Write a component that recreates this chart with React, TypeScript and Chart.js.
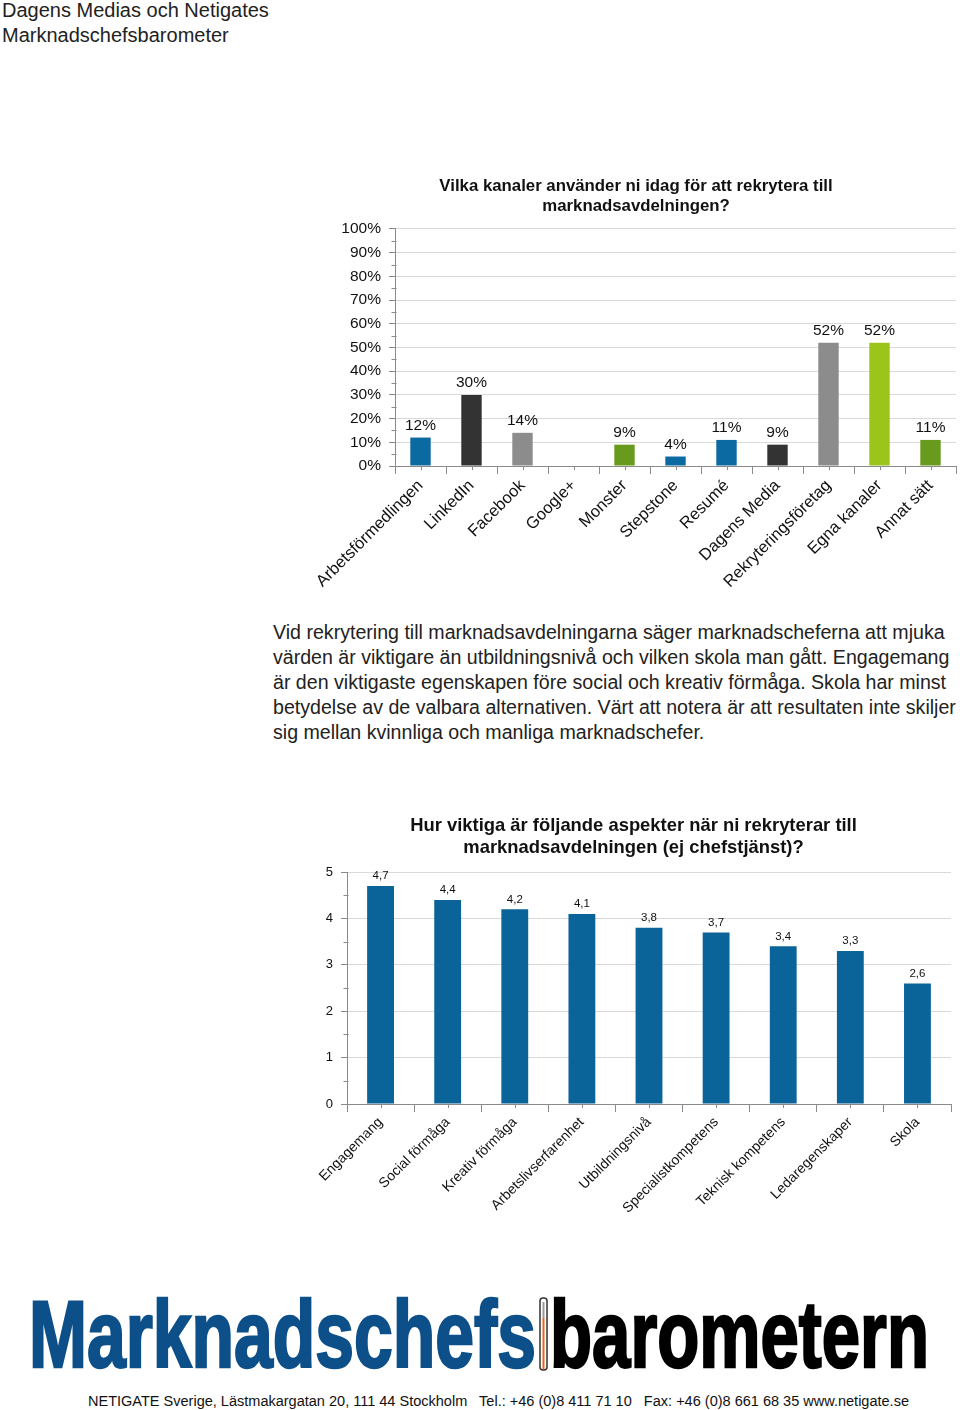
import React, { useEffect, useRef } from "react";
import { Chart, registerables } from "chart.js";

Chart.register(...registerables);

const FONT = "'Liberation Sans', Arial, Helvetica, sans-serif";

// Chart 1 data
const channelTitle = ["Vilka kanaler använder ni idag för att rekrytera till", "marknadsavdelningen?"];
const channelLabels = [
  "Arbetsförmedlingen",
  "LinkedIn",
  "Facebook",
  "Google+",
  "Monster",
  "Stepstone",
  "Resumé",
  "Dagens Media",
  "Rekryteringsföretag",
  "Egna kanaler",
  "Annat sätt",
];
const channelValues: (number | null)[] = [12, 30, 14, null, 9, 4, 11, 9, 52, 52, 11];
const channelColors = [
  "#0b6aa2",
  "#333333",
  "#8c8c8c",
  "#8c8c8c",
  "#689a1d",
  "#0b6aa2",
  "#0b6aa2",
  "#333333",
  "#8c8c8c",
  "#9dc41b",
  "#689a1d",
];

// Chart 2 data
const aspectTitle = ["Hur viktiga är följande aspekter när ni rekryterar till", "marknadsavdelningen (ej chefstjänst)?"];
const aspectLabels = [
  "Engagemang",
  "Social förmåga",
  "Kreativ förmåga",
  "Arbetslivserfarenhet",
  "Utbildningsnivå",
  "Specialistkompetens",
  "Teknisk kompetens",
  "Ledaregenskaper",
  "Skola",
];
const aspectValues = [4.7, 4.4, 4.2, 4.1, 3.8, 3.7, 3.4, 3.3, 2.6];
const aspectColor = "#0a6399";

const headerLines = ["Dagens Medias och Netigates", "Marknadschefsbarometer"];
const paragraphLines = [
  "Vid rekrytering till marknadsavdelningarna säger marknadscheferna att mjuka",
  "värden är viktigare än utbildningsnivå och vilken skola man gått. Engagemang",
  "är den viktigaste egenskapen före social och kreativ förmåga. Skola har minst",
  "betydelse av de valbara alternativen. Värt att notera är att resultaten inte skiljer",
  "sig mellan kvinnliga och manliga marknadschefer.",
];
const footerText =
  "NETIGATE Sverige, Lästmakargatan 20, 111 44 Stockholm   Tel.: +46 (0)8 411 71 10   Fax: +46 (0)8 661 68 35 www.netigate.se";

const valueLabelPlugin = {
  id: "valueLabels",
  afterDatasetsDraw(chart: any, _args: any, opts: any) {
    const ctx = chart.ctx;
    ctx.save();
    ctx.font = `${opts.size || 12}px ${FONT}`;
    ctx.fillStyle = opts.color || "#111";
    ctx.textAlign = "center";
    ctx.textBaseline = "bottom";
    chart.data.datasets.forEach((ds: any, di: number) => {
      const meta = chart.getDatasetMeta(di);
      meta.data.forEach((el: any, i: number) => {
        const v = ds.data[i];
        if (v === null || v === undefined) return;
        ctx.fillText(opts.format(v), el.x, el.y - (opts.offset || 4));
      });
    });
    ctx.restore();
  },
};

const minorTickPlugin = {
  id: "minorTicks",
  afterDraw(chart: any, _args: any, opts: any) {
    const ctx = chart.ctx;
    const y = chart.scales.y;
    const x = chart.scales.x;
    ctx.save();
    ctx.strokeStyle = "#8a8a8a";
    ctx.lineWidth = 1;
    ctx.beginPath();
    const ax = Math.round(x.left) + 0.5;
    for (let v = y.min + opts.yStep / 2; v < y.max; v += opts.yStep) {
      const py = Math.round(y.getPixelForValue(v)) + 0.5;
      ctx.moveTo(ax - 4, py);
      ctx.lineTo(ax + 1, py);
    }
    const ay = Math.round(y.bottom);
    for (let i = 0; i < chart.data.labels.length; i++) {
      const px = Math.round(x.getPixelForValue(i)) + 0.5;
      ctx.moveTo(px, ay);
      ctx.lineTo(px, ay + 4);
    }
    ctx.stroke();
    ctx.restore();
  },
};

function makeConfig(p: {
  labels: string[];
  values: (number | null)[];
  colors: string | string[];
  title: string[];
  titleSize: number;
  titleLineHeight: number;
  titlePadTop: number;
  titlePadBottom: number;
  yMax: number;
  yStep: number;
  yFormat: (v: number) => string;
  yFontSize: number;
  yWidth: number;
  xHeight: number;
  xFontSize: number;
  rightPad: number;
  labelSize: number;
  labelOffset: number;
  labelFormat: (v: number) => string;
  barPct: number;
}): any {
  return {
    type: "bar",
    data: {
      labels: p.labels,
      datasets: [
        {
          data: p.values,
          backgroundColor: p.colors,
          borderWidth: 0,
          barPercentage: p.barPct,
          categoryPercentage: 1,
        },
      ],
    },
    options: {
      animation: false,
      responsive: false,
      maintainAspectRatio: false,
      layout: { padding: { left: 0, right: p.rightPad, top: 0, bottom: 0 } },
      plugins: {
        legend: { display: false },
        tooltip: { enabled: false },
        title: {
          display: true,
          text: p.title,
          color: "#111",
          font: { size: p.titleSize, weight: "bold", family: FONT, lineHeight: p.titleLineHeight },
          padding: { top: p.titlePadTop, bottom: p.titlePadBottom },
        },
        valueLabels: { size: p.labelSize, offset: p.labelOffset, format: p.labelFormat, color: "#111" },
        minorTicks: { yStep: p.yStep },
      },
      scales: {
        x: {
          grid: {
            display: true,
            drawOnChartArea: false,
            drawTicks: true,
            tickLength: 8,
            color: "#8a8a8a",
            offset: true,
          },
          border: { color: "#8a8a8a" },
          ticks: {
            color: "#111",
            font: { size: p.xFontSize, family: FONT },
            maxRotation: 45,
            minRotation: 45,
            autoSkip: false,
            padding: 2,
          },
          afterFit(s: any) {
            s.height = p.xHeight;
            s.paddingLeft = 0;
            s.paddingRight = 0;
          },
        },
        y: {
          min: 0,
          max: p.yMax,
          grid: { color: "#d9d9d9", tickColor: "#8a8a8a", tickLength: 6, drawTicks: true },
          border: { color: "#8a8a8a" },
          ticks: {
            stepSize: p.yStep,
            color: "#111",
            font: { size: p.yFontSize, family: FONT },
            padding: 8,
            callback: (v: any) => p.yFormat(Number(v)),
          },
          afterFit(s: any) {
            s.width = p.yWidth;
            s.paddingTop = 0;
            s.paddingBottom = 0;
          },
        },
      },
    },
    plugins: [valueLabelPlugin, minorTickPlugin],
  };
}

function BarChart({ config, left, top, width, height }: any) {
  const ref = useRef<HTMLCanvasElement | null>(null);
  useEffect(() => {
    if (!ref.current) return;
    const chart = new Chart(ref.current, config);
    return () => chart.destroy();
  }, [config]);
  return (
    <div style={{ position: "absolute", left, top, width, height }}>
      <canvas ref={ref} width={width} height={height} style={{ width, height, display: "block" }} />
    </div>
  );
}

const channelConfig = makeConfig({
  labels: channelLabels,
  values: channelValues,
  colors: channelColors,
  title: channelTitle,
  titleSize: 16.8,
  titleLineHeight: 1.19,
  titlePadTop: 16,
  titlePadBottom: 13,
  yMax: 100,
  yStep: 10,
  yFormat: (v) => v + "%",
  yFontSize: 15.5,
  yWidth: 79,
  xHeight: 134,
  xFontSize: 16.5,
  rightPad: 4,
  labelSize: 15.5,
  labelOffset: 4,
  labelFormat: (v) => v + "%",
  barPct: 0.4,
});

const aspectConfig = makeConfig({
  labels: aspectLabels,
  values: aspectValues,
  colors: aspectColor,
  title: aspectTitle,
  titleSize: 18.4,
  titleLineHeight: 1.2,
  titlePadTop: 15,
  titlePadBottom: 13,
  yMax: 5,
  yStep: 1,
  yFormat: (v) => String(v),
  yFontSize: 13,
  yWidth: 31,
  xHeight: 126,
  xFontSize: 14,
  rightPad: 9,
  labelSize: 11.5,
  labelOffset: 4,
  labelFormat: (v) => String(v).replace(".", ","),
  barPct: 0.4,
});

export default function App() {
  return (
    <div
      style={{
        position: "absolute",
        left: 0,
        top: 0,
        width: 960,
        height: 1410,
        overflow: "hidden",
        background: "#fff",
        fontFamily: FONT,
        color: "#222",
      }}
    >
      <div style={{ position: "absolute", left: 2, top: -2, fontSize: 20, lineHeight: "25px", whiteSpace: "nowrap" }}>
        {headerLines.map((l) => (
          <div key={l}>{l}</div>
        ))}
      </div>

      <BarChart config={channelConfig} left={316} top={160} width={644} height={440} />

      <div
        style={{
          position: "absolute",
          left: 273,
          top: 620,
          fontSize: 19.6,
          lineHeight: "25px",
          whiteSpace: "nowrap",
          color: "#222",
        }}
      >
        {paragraphLines.map((l) => (
          <div key={l}>{l}</div>
        ))}
      </div>

      <BarChart config={aspectConfig} left={316} top={800} width={644} height={430} />

      <svg
        style={{ position: "absolute", left: 0, top: 1290 }}
        width={960}
        height={120}
        viewBox="0 0 960 120"
      >
        <text
          x={29}
          y={77}
          fontFamily="'Liberation Sans Narrow', 'Liberation Sans', Arial, sans-serif"
          fontWeight="bold"
          fontSize={94}
          fill="#0c4f89"
          stroke="#0c4f89"
          strokeWidth={2.5}
          textLength={507}
          lengthAdjust="spacingAndGlyphs"
        >
          Marknadschefs
        </text>
        <rect x={540} y={8} width={7} height={72} rx={3} fill="#fff" stroke="#333" strokeWidth={1.5} />
        <line x1={543.5} y1={12} x2={543.5} y2={28} stroke="#9a9a9a" strokeWidth={2} />
        <line x1={543.5} y1={28} x2={543.5} y2={79} stroke="#e8641e" strokeWidth={2} />
        <text
          x={550}
          y={77}
          fontFamily="'Liberation Sans Narrow', 'Liberation Sans', Arial, sans-serif"
          fontWeight="bold"
          fontSize={94}
          fill="#000"
          stroke="#000"
          strokeWidth={2.5}
          textLength={379}
          lengthAdjust="spacingAndGlyphs"
        >
          barometern
        </text>
        <text
          x={88}
          y={116}
          fontFamily={FONT}
          fontSize={14}
          fill="#111"
          textLength={821}
          lengthAdjust="spacingAndGlyphs"
          style={{ whiteSpace: "pre" }}
        >
          {footerText}
        </text>
      </svg>
    </div>
  );
}
